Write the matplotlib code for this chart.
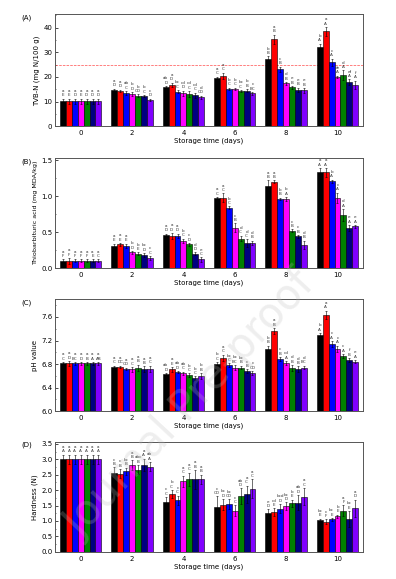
import numpy as np
import matplotlib
matplotlib.use('Agg')
import matplotlib.pyplot as plt
from matplotlib.ticker import AutoMinorLocator

days = [0, 2, 4, 6, 8, 10]
colors = ['black', 'red', 'blue', 'magenta', 'green', 'navy', '#8000ff']

# TVB-N (mg N/100 g)
tvbn = [[10.2] * 7,
        [14.8, 14.5, 13.5, 13.0, 12.3, 12.2, 10.7],
        [15.8, 16.8, 14.1, 13.4, 13.0, 12.6, 11.8],
        [19.6, 20.5, 15.1, 15.3, 14.2, 14.5, 13.3],
        [27.4, 35.4, 23.2, 17.4, 15.8, 14.8, 14.6],
        [32.3, 38.5, 25.9, 20.1, 20.8, 17.8, 16.9]]
tvbn_err = [[1.0] * 7,
            [0.5, 0.4, 0.8, 0.9, 0.6, 0.4, 0.5],
            [0.6, 0.9, 0.6, 1.0, 1.2, 1.0, 0.6],
            [0.6, 1.3, 0.5, 0.4, 0.4, 0.5, 0.6],
            [1.0, 1.8, 1.0, 0.6, 0.6, 0.8, 0.9],
            [1.3, 1.8, 1.5, 0.5, 1.9, 1.2, 1.6]]
tvbn_lo = [['a'] * 7,
           ['a', 'a', 'ab', 'b', 'b', 'b', 'c'],
           ['ab', 'a', 'bc', 'cd', 'cd', 'cd', 'd'],
           ['a', 'a', 'b', 'b', 'bc', 'b', 'c'],
           ['b', 'a', 'c', 'd', 'e', 'e', 'e'],
           ['b', 'a', 'c', 'de', 'd', 'ef', 'f']]
tvbn_up = [['E', 'E', 'D', 'E', 'D', 'D', 'D'],
           ['D', 'D', 'C', 'D', 'CD', 'C', 'D'],
           ['D', 'D', 'C', 'D', 'C', 'C', 'CD'],
           ['C', 'C', 'C', 'C', 'C', 'B', 'BC'],
           ['B', 'B', 'B', 'B', 'B', 'B', 'B'],
           ['A', 'A', 'A', 'A', 'A', 'A', 'A']]

# Thiobarbituric acid (mg MDA/kg)
tba = [[0.10] * 7,
       [0.31, 0.33, 0.31, 0.22, 0.20, 0.18, 0.14],
       [0.46, 0.45, 0.45, 0.38, 0.33, 0.20, 0.12],
       [0.97, 0.98, 0.84, 0.56, 0.41, 0.35, 0.35],
       [1.14, 1.20, 0.96, 0.96, 0.52, 0.44, 0.32],
       [1.33, 1.33, 1.21, 0.98, 0.74, 0.56, 0.58]]
tba_err = [[0.02, 0.04, 0.02, 0.02, 0.02, 0.02, 0.02],
           [0.03, 0.02, 0.03, 0.02, 0.02, 0.03, 0.03],
           [0.02, 0.04, 0.03, 0.03, 0.02, 0.02, 0.03],
           [0.02, 0.06, 0.02, 0.06, 0.04, 0.05, 0.03],
           [0.08, 0.02, 0.02, 0.03, 0.02, 0.02, 0.06],
           [0.06, 0.06, 0.02, 0.07, 0.08, 0.04, 0.02]]
tba_lo = [['a'] * 7,
          ['a', 'a', 'a', 'b', 'b', 'bc', 'c'],
          ['a', 'a', 'a', 'b', 'c', 'd', 'e'],
          ['a', 'a', 'b', 'c', 'd', 'd', 'd'],
          ['a', 'a', 'b', 'b', 'c', 'c', 'd'],
          ['a', 'a', 'b', 'c', 'd', 'e', 'e']]
tba_up = [['F', 'F', 'F', 'F', 'F', 'E', 'C'],
          ['E', 'E', 'E', 'D', 'E', 'D', 'C'],
          ['D', 'D', 'D', 'C', 'D', 'D', 'C'],
          ['C', 'C', 'C', 'B', 'C', 'C', 'B'],
          ['B', 'B', 'B', 'A', 'B', 'B', 'B'],
          ['A', 'A', 'A', 'A', 'A', 'A', 'A']]

# pH value
ph = [[6.81] * 7,
      [6.75, 6.75, 6.72, 6.71, 6.74, 6.71, 6.72],
      [6.63, 6.71, 6.66, 6.64, 6.61, 6.56, 6.60],
      [6.80, 6.91, 6.78, 6.74, 6.74, 6.68, 6.65],
      [7.05, 7.36, 6.89, 6.82, 6.73, 6.71, 6.74],
      [7.30, 7.64, 7.14, 7.06, 6.94, 6.87, 6.84]]
ph_err = [[0.02, 0.04, 0.02, 0.02, 0.02, 0.02, 0.02],
          [0.02, 0.02, 0.02, 0.04, 0.05, 0.05, 0.05],
          [0.02, 0.04, 0.02, 0.03, 0.03, 0.03, 0.05],
          [0.03, 0.05, 0.03, 0.04, 0.03, 0.03, 0.03],
          [0.06, 0.05, 0.03, 0.03, 0.05, 0.05, 0.03],
          [0.03, 0.07, 0.05, 0.05, 0.03, 0.03, 0.03]]
ph_lo = [['a'] * 7,
         ['a', 'a', 'a', 'a', 'a', 'a', 'a'],
         ['ab', 'a', 'ab', 'ab', 'b', 'b', 'b'],
         ['b', 'a', 'bc', 'bc', 'bc', 'c', 'c'],
         ['b', 'a', 'c', 'cd', 'd', 'd', 'd'],
         ['b', 'a', 'c', 'c', 'c', 'f', 'e']]
ph_up = [['C', 'D', 'BC', 'D', 'B', 'A', 'AB'],
         ['C', 'DC', 'CD', 'C', 'B', 'B', 'C'],
         ['D', 'E', 'D', 'C', 'C', 'C', 'B'],
         ['C', 'C', 'C', 'BC', 'B', 'B', 'CD'],
         ['B', 'B', 'B', 'A', 'B', 'B', 'BC'],
         ['A', 'A', 'A', 'A', 'A', 'B', 'A']]

# Hardness (N)
hard = [[3.0] * 7,
        [2.56, 2.54, 2.61, 2.82, 2.66, 2.82, 2.76],
        [1.63, 1.88, 1.67, 2.29, 2.35, 2.35, 2.35],
        [1.45, 1.53, 1.55, 1.33, 1.81, 1.87, 2.05],
        [1.26, 1.29, 1.40, 1.48, 1.57, 1.59, 1.79],
        [1.03, 0.97, 1.05, 1.15, 1.33, 1.07, 1.41]]
hard_err = [[0.15] * 7,
            [0.18, 0.15, 0.12, 0.15, 0.15, 0.20, 0.15],
            [0.15, 0.12, 0.15, 0.18, 0.22, 0.30, 0.15],
            [0.35, 0.18, 0.15, 0.18, 0.25, 0.28, 0.30],
            [0.12, 0.12, 0.15, 0.12, 0.12, 0.25, 0.28],
            [0.05, 0.08, 0.05, 0.05, 0.18, 0.25, 0.28]]
hard_lo = [['a'] * 7,
           ['c', 'c', 'bc', 'a', 'abc', 'a', 'ab'],
           ['c', 'b', 'c', 'a', 'a', 'a', 'a'],
           ['c', 'bc', 'bc', 'c', 'ab', 'a', 'a'],
           ['e', 'cd', 'bcd', 'bc', 'b', 'ab', 'a'],
           ['bc', 'c', 'bc', 'b', 'a', 'bc', 'a']]
hard_up = [['A'] * 7,
           ['B', 'B', 'B', 'B', 'B', 'A', 'A'],
           ['C', 'C', 'C', 'C', 'C', 'B', 'B'],
           ['CD', 'D', 'CD', 'C', 'D', 'C', 'C'],
           ['D', 'E', 'D', 'D', 'E', 'D', 'C'],
           ['E', 'F', 'E', 'E', 'F', 'E', 'D']]

panels = [
    ('(A)', 'TVB-N (mg N/100 g)', tvbn, tvbn_err, tvbn_lo, tvbn_up, (0, 45.4), [0, 10, 20, 30, 40], '%d'),
    ('(B)', 'Thiobarbituric acid (mg MDA/kg)', tba, tba_err, tba_lo, tba_up, (0, 1.53), [0, 0.5, 1.0, 1.5], '%.1f'),
    ('(C)', 'pH value', ph, ph_err, ph_lo, ph_up, (6.0, 7.9), [6.0, 6.4, 6.8, 7.2, 7.6], '%.1f'),
    ('(D)', 'Hardness (N)', hard, hard_err, hard_lo, hard_up, (0, 3.57), [0, 0.5, 1.0, 1.5, 2.0, 2.5, 3.0, 3.5], '%.1f'),
]
boxes = [[0.139, 0.782, 0.778, 0.193],
         [0.139, 0.537, 0.778, 0.190],
         [0.139, 0.290, 0.778, 0.193],
         [0.139, 0.047, 0.778, 0.190]]

fig = plt.figure(figsize=(3.96, 5.79), dpi=100)
fs = 5
w = 0.23
x = np.array(days, dtype=float)

# faint watermark, bars are drawn over it
fig.text(0.48, 0.30, 'Journal Pre-proof', fontsize=30, color='#bbbbbb', alpha=0.25,
         rotation=47, ha='center', va='center', zorder=0)

for (lab, ylab, vals, errs, lo, up, ylim, yt, fmt), box in zip(panels, boxes):
    ax = fig.add_axes(box)
    ax.set_facecolor('none')
    vals = np.array(vals)
    errs = np.array(errs)
    span = ylim[1] - ylim[0]
    for j in range(7):
        xx = x + (j - 3) * w
        ax.bar(xx, vals[:, j] - ylim[0], w, bottom=ylim[0], color=colors[j],
               edgecolor='black', linewidth=0.4, zorder=2)
        ax.errorbar(xx, vals[:, j], yerr=errs[:, j], fmt='none', ecolor='black',
                    elinewidth=0.4, capsize=1.0, capthick=0.4, zorder=3)
        for i in range(len(days)):
            top = vals[i, j] + errs[i, j]
            ax.text(xx[i], top + span * 0.012, up[i][j], ha='center', va='bottom',
                    fontsize=3, color='#333333', zorder=4)
            ax.text(xx[i], top + span * 0.052, lo[i][j], ha='center', va='bottom',
                    fontsize=3, color='#333333', zorder=4)
    if lab == '(A)':
        ax.axhline(25, color='red', linestyle='--', linewidth=0.5, alpha=0.7, zorder=1)
    ax.set_xlim(-1, 11)
    ax.set_ylim(*ylim)
    ax.set_xticks(days)
    ax.set_yticks(yt)
    ax.set_yticklabels([fmt % v for v in yt])
    ax.yaxis.set_minor_locator(AutoMinorLocator(2))
    ax.tick_params(labelsize=fs, direction='in', length=2, width=0.5, pad=2)
    ax.tick_params(which='minor', direction='in', length=1, width=0.4)
    ax.tick_params(axis='x', length=0, pad=3)
    ax.set_xlabel('Storage time (days)', fontsize=fs, labelpad=1)
    ax.set_ylabel(ylab, fontsize=4.6 if lab == '(B)' else fs, labelpad=2)
    ax.text(-0.075, 1.0, lab, transform=ax.transAxes, fontsize=fs, ha='right', va='top')
    for s in ax.spines.values():
        s.set_linewidth(0.7)
        s.set_color('#555555')

fig.savefig('out.png', dpi=100)
